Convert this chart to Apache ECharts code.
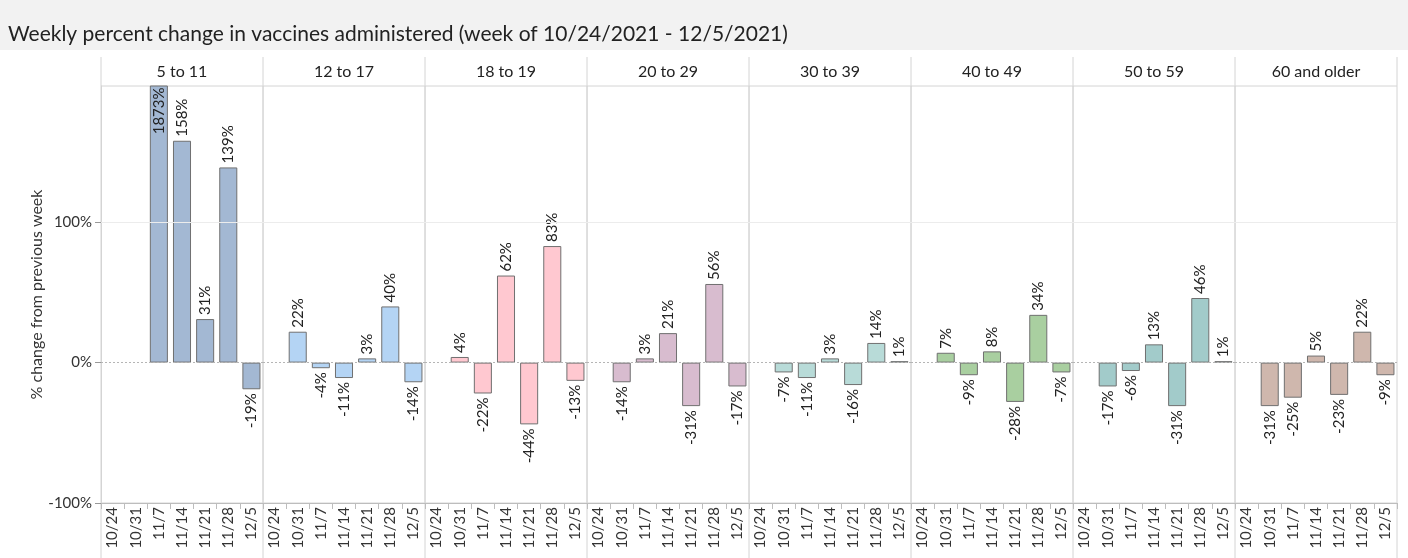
<!DOCTYPE html>
<html>
<head>
<meta charset="utf-8">
<script src="https://cdn.jsdelivr.net/npm/echarts@6/dist/echarts.min.js"></script>
<style>
  html, body { margin: 0; padding: 0; background: #fff; }
  #chart { width: 1408px; height: 558px; }
</style>
</head>
<body>
<div id="chart"></div>
<script>
// data
const weeks = ["10/24", "10/31", "11/7", "11/14", "11/21", "11/28", "12/5"];
const ageGroups = ["5 to 11", "12 to 17", "18 to 19", "20 to 29", "30 to 39", "40 to 49", "50 to 59", "60 and older"];
const age5to11 = [null, null, 1873, 158, 31, 139, -19];
const age12to17 = [null, 22, -4, -11, 3, 40, -14];
const age18to19 = [null, 4, -22, 62, -44, 83, -13];
const age20to29 = [null, -14, 3, 21, -31, 56, -17];
const age30to39 = [null, -7, -11, 3, -16, 14, 1];
const age40to49 = [null, 7, -9, 8, -28, 34, -7];
const age50to59 = [null, -17, -6, 13, -31, 46, 1];
const age60plus = [null, -31, -25, 5, -23, 22, -9];
const yTicks = { min: -100, max: 197, interval: 100 };

const allValues = [age5to11, age12to17, age18to19, age20to29, age30to39, age40to49, age50to59, age60plus];
const colors = ["#a3b8d3", "#b4d4f4", "#ffc8d0", "#d8bccf", "#b8dbd8", "#a9cfa0", "#a2cbca", "#cfb7ad"];

// layout
const plotLeft = 101;
const panelW = 162;
const plotTop = 86;
const plotH = 417;
const headTop = 57;
const font = "Lato, 'Noto Sans', sans-serif";

const myChart = echarts.init(document.getElementById("chart"));

const grids = [], xAxes = [], yAxes = [], series = [], graphics = [];

graphics.push({
  type: "rect", left: 0, top: 0, z: -10,
  shape: { width: 1408, height: 50 },
  style: { fill: "#f2f2f2" },
});

ageGroups.forEach((name, i) => {
  const left = plotLeft + i * panelW;
  grids.push({
    left: left, top: plotTop, width: panelW, height: plotH,
    show: true, borderColor: "#d4d4d4", borderWidth: 1,
  });
  xAxes.push({
    type: "category", gridIndex: i, data: weeks,
    axisLine: { show: true, onZero: false, lineStyle: { color: "#bdbdbd" } },
    axisTick: { show: true, length: 6, lineStyle: { color: "#bdbdbd" } },
    axisLabel: { interval: 0, rotate: 90, fontSize: 15, color: "#333", margin: 4, fontFamily: font },
    splitLine: { show: false },
  });
  yAxes.push({
    type: "value", gridIndex: i,
    min: yTicks.min, max: yTicks.max, interval: yTicks.interval,
    show: i === 0,
    name: i === 0 ? "% change from previous week" : "",
    nameLocation: "middle", nameGap: 48,
    nameTextStyle: { fontSize: 16, color: "#333", fontFamily: font },
    axisLine: { show: true, lineStyle: { color: "#d4d4d4" } },
    axisTick: { show: true, length: 6, lineStyle: { color: "#999" } },
    axisLabel: { formatter: "{value}%", fontSize: 15, color: "#333", fontFamily: font, showMaxLabel: false, margin: 9 },
    splitLine: { show: false },
  });
  series.push({
    type: "bar", name: name, xAxisIndex: i, yAxisIndex: i,
    barCategoryGap: "22%",
    itemStyle: { color: colors[i], borderColor: "#707070", borderWidth: 1 },
    label: {
      show: true, position: "top", rotate: 90, align: "left", verticalAlign: "middle",
      distance: 4, formatter: "{c}%", fontSize: 15, color: "#222", fontFamily: font,
    },
    data: allValues[i].map((v) => {
      if (v === null) return "-";
      if (v > yTicks.max) return { value: v, label: { position: "insideTop", align: "right", distance: 2 } };
      if (v < 0) return { value: v, label: { position: "bottom", align: "right" } };
      return v;
    }),
    markLine: {
      silent: true, symbol: "none", animation: false,
      label: { show: false },
      data: [
        { yAxis: 0, lineStyle: { type: [2, 2], color: "#b5b5b5", width: 1 } },
        { yAxis: 100, lineStyle: { type: "solid", color: "#ececec", width: 1 } },
      ],
    },
    z: 3,
  });
  graphics.push({
    type: "text", x: left + panelW / 2, y: headTop + 15,
    style: { text: name, align: "center", verticalAlign: "middle", fill: "#222", font: "16px " + font },
  });
});

// panel separators in header and tick-label rows
for (let i = 0; i <= ageGroups.length; i++) {
  const x = plotLeft + i * panelW;
  graphics.push({ type: "line", shape: { x1: x, y1: headTop, x2: x, y2: plotTop }, style: { stroke: "#d4d4d4", lineWidth: 1 } });
  graphics.push({ type: "line", shape: { x1: x, y1: plotTop + plotH, x2: x, y2: 558 }, style: { stroke: "#d4d4d4", lineWidth: 1 } });
}

myChart.setOption({
  animation: false,
  title: {
    text: "Weekly percent change in vaccines administered (week of 10/24/2021 - 12/5/2021)",
    left: 3, top: 19,
    textStyle: { fontSize: 21, fontWeight: "normal", color: "#222", fontFamily: font },
  },
  grid: grids,
  xAxis: xAxes,
  yAxis: yAxes,
  series: series,
  graphic: graphics,
});
</script>
</body>
</html>
